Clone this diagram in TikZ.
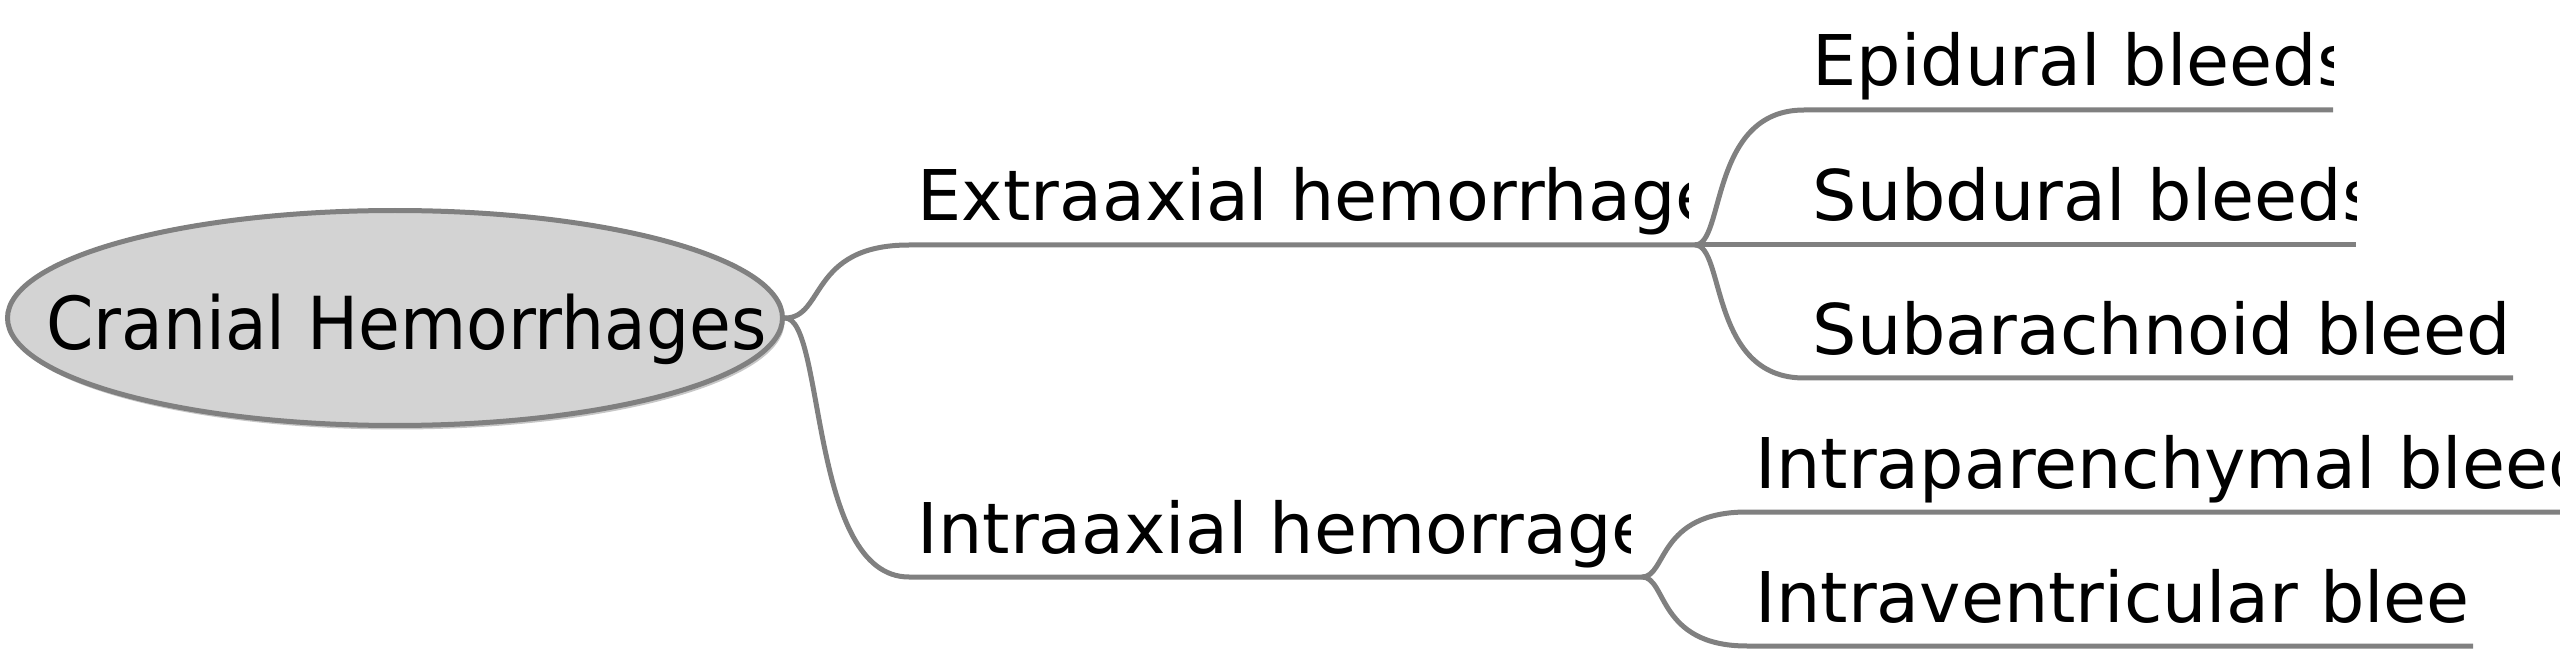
\documentclass[tikz,border=0pt]{standalone}
\usepackage{fontspec}
\setmainfont{DejaVu Sans}
\newfontfamily\narrowfont{DejaVu Sans}[FakeStretch=0.93]
\usepackage{tikz}
\usetikzlibrary{
    shapes.geometric,
    positioning,
    shadows
}
\definecolor{linegray}{HTML}{808080}
\definecolor{nodegray}{HTML}{D3D3D3}
\newcommand{\mapfont}{\fontsize{19.9pt}{24pt}\selectfont}
\newcommand{\centralfont}{\narrowfont\fontsize{20.8pt}{25pt}\selectfont}
\tikzset{
  central/.style = {
      draw=linegray,
      line width=0.5mm,
      fill=nodegray,
      ellipse,
      minimum width=77.5mm,
      minimum height=21.5mm,
      drop shadow={shadow xshift=0.2mm, shadow yshift=-0.4mm, fill=black!22, opacity=1}
  },
  topic/.style = {
      font=\mapfont,
      inner sep=0pt,
      anchor=base west
  },
  branch/.style = {
      draw=linegray,
      line width=0.5mm
  }
}

\begin{document}
\begin{tikzpicture}[x=0.1mm, y=-0.1mm]
        \useasboundingbox (0,0) rectangle (2560,652);
        \node[central] (root) at (395,318) {};
        \node[topic, font=\centralfont, anchor=base] (rootlabel) at ([xshift=1.15mm, yshift=-3.2mm]root.center) {Cranial Hemorrhages};
        % Underlines
        \coordinate (extraS) at (909,245);
        \coordinate (extraE) at (1695,245);
        \coordinate (intraS) at (909,577);
        \coordinate (intraE) at (1642,577);
        \coordinate (epiS) at (1804,110);
        \coordinate (epiE) at (2333,110);
        \coordinate (subS) at (1804,245);
        \coordinate (subE) at (2356,245);
        \coordinate (arachS) at (1804,378);
        \coordinate (arachE) at (2513,378);
        \coordinate (parS) at (1747,512);
        \coordinate (parE) at (2560,512);
        \coordinate (venS) at (1747,646);
        \coordinate (venE) at (2473,646);
        % Labels
        \begin{scope}
            \clip (extraS) rectangle ([xshift=-0.7mm, yshift=10mm]extraE);
            \node[above right=2.4mm and 0.8mm of extraS, topic] (extra) {Extraaxial hemorrhage};
        \end{scope}
        \begin{scope}
            \clip (intraS) rectangle ([xshift=-1.2mm, yshift=10mm]intraE);
            \node[above right=2.4mm and 0.8mm of intraS, topic] (intra) {Intraaxial hemorrage};
        \end{scope}
        \begin{scope}
            \clip (epiS) rectangle ([yshift=10mm]epiE);
            \node[above right=2.4mm and 0.8mm of epiS, topic] (epi) {Epidural bleeds};
        \end{scope}
        \begin{scope}
            \clip (subS) rectangle ([yshift=10mm]subE);
            \node[above right=2.4mm and 0.8mm of subS, topic] (sub) {Subdural bleeds};
        \end{scope}
        \node[above right=2.4mm and 0.8mm of arachS, topic] (arach) {Subarachnoid bleed};
        \node[above right=2.4mm and 0.8mm of parS, topic] (par) {Intraparenchymal bleed};
        \node[above right=2.4mm and 0.8mm of venS, topic] (ven) {Intraventricular blee};
        % Edges
        \draw[branch] (root.east) .. controls +(40,0) and +(-100,0) .. (extraS) -- (extraE);
        \draw[branch] (root.east) .. controls +(40,0) and +(-100,0) .. (intraS) -- (intraE);
        \draw[branch] (extraE) .. controls +(30,0) and +(-95,0) .. (epiS) -- (epiE);
        \draw[branch] (extraE) -- (subS) -- (subE);
        \draw[branch] (extraE) .. controls +(30,0) and +(-95,0) .. (arachS) -- (arachE);
        \draw[branch] (intraE) .. controls +(25,0) and +(-90,0) .. (parS) -- (parE);
        \draw[branch] (intraE) .. controls +(25,0) and +(-90,0) .. (venS) -- (venE);
    \end{tikzpicture}
\end{document}
